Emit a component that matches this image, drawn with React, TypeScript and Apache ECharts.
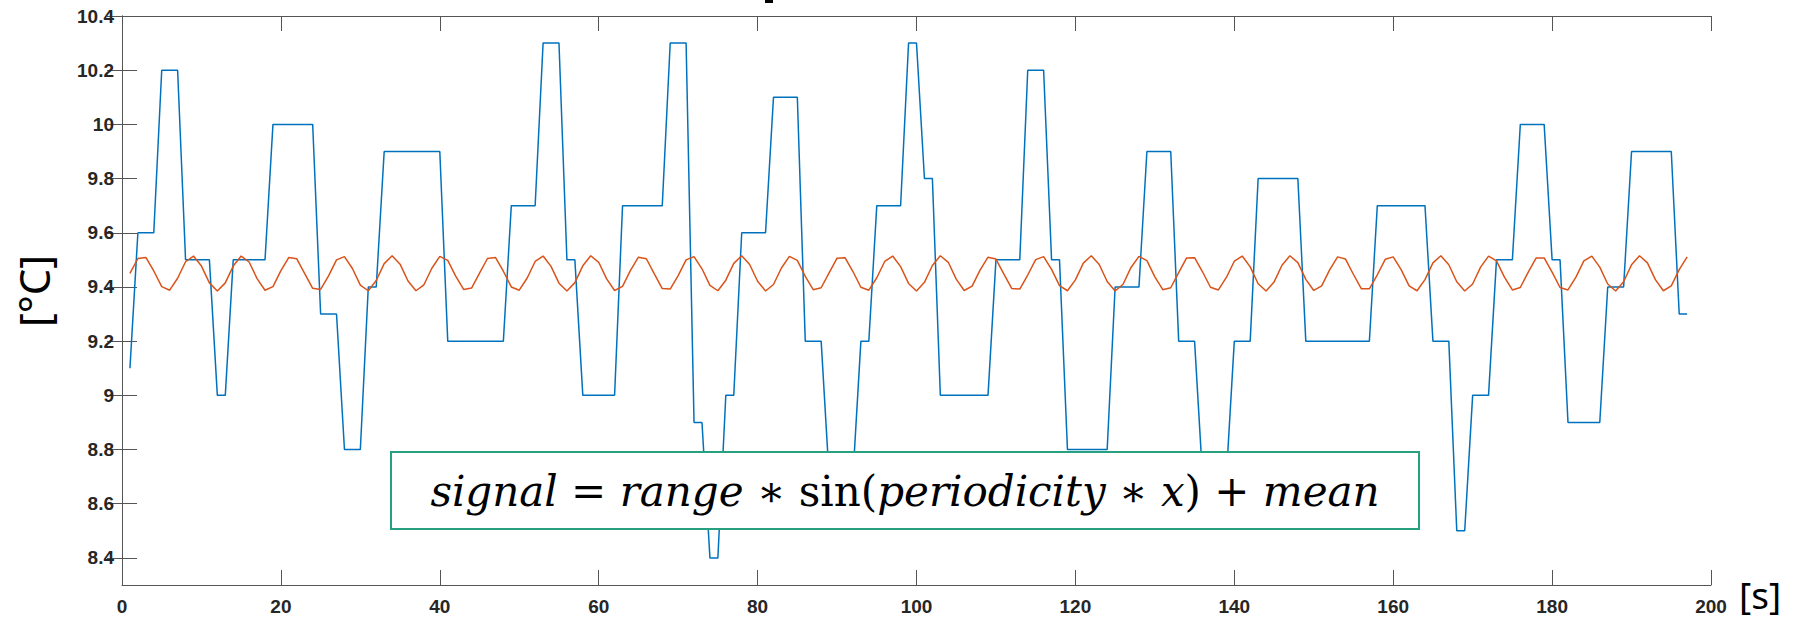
import React, { useEffect, useRef } from "react";
import * as echarts from "echarts";

// Measured temperature signal [°C], one sample per second (x = 1..197)
const blueSignal: number[] = [
  9.1, 9.6, 9.6, 9.6, 10.2, 10.2, 10.2, 9.5, 9.5, 9.5, 9.5, 9.0, 9.0,
  9.5, 9.5, 9.5, 9.5, 9.5, 10.0, 10.0, 10.0, 10.0, 10.0, 10.0, 9.3, 9.3, 9.3,
  8.8, 8.8, 8.8, 9.4, 9.4, 9.9, 9.9, 9.9, 9.9, 9.9, 9.9, 9.9, 9.9,
  9.2, 9.2, 9.2, 9.2, 9.2, 9.2, 9.2, 9.2, 9.7, 9.7, 9.7, 9.7, 10.3, 10.3, 10.3,
  9.5, 9.5, 9.0, 9.0, 9.0, 9.0, 9.0, 9.7, 9.7, 9.7, 9.7, 9.7, 9.7,
  10.3, 10.3, 10.3, 8.9, 8.9, 8.4, 8.4, 9.0, 9.0, 9.6, 9.6, 9.6, 9.6,
  10.1, 10.1, 10.1, 10.1, 9.2, 9.2, 9.2, 8.7, 8.7, 8.7, 8.7, 9.2, 9.2,
  9.7, 9.7, 9.7, 9.7, 10.3, 10.3, 9.8, 9.8, 9.0, 9.0, 9.0, 9.0, 9.0, 9.0, 9.0,
  9.5, 9.5, 9.5, 9.5, 10.2, 10.2, 10.2, 9.5, 9.5, 8.8, 8.8, 8.8, 8.8, 8.8, 8.8,
  9.4, 9.4, 9.4, 9.4, 9.9, 9.9, 9.9, 9.9, 9.2, 9.2, 9.2, 8.7, 8.7, 8.7, 8.7,
  9.2, 9.2, 9.2, 9.8, 9.8, 9.8, 9.8, 9.8, 9.8,
  9.2, 9.2, 9.2, 9.2, 9.2, 9.2, 9.2, 9.2, 9.2, 9.7, 9.7, 9.7, 9.7, 9.7, 9.7, 9.7,
  9.2, 9.2, 9.2, 8.5, 8.5, 9.0, 9.0, 9.0, 9.5, 9.5, 9.5, 10.0, 10.0, 10.0, 10.0,
  9.5, 9.5, 8.9, 8.9, 8.9, 8.9, 8.9, 9.4, 9.4, 9.4, 9.9, 9.9, 9.9, 9.9, 9.9, 9.9,
  9.3, 9.3,
];

// Sinusoidal reference signal [°C], same sampling
const orangeSignal: number[] = [
  9.450, 9.505, 9.509, 9.459, 9.401, 9.388, 9.432, 9.493, 9.514, 9.477, 9.415, 9.385, 9.415, 9.477, 9.514, 9.492, 9.431, 9.388, 9.401, 9.460, 9.509, 9.504,
  9.449, 9.395, 9.391, 9.441, 9.500, 9.512, 9.468, 9.407, 9.386, 9.424, 9.486, 9.515, 9.484, 9.422, 9.386, 9.408, 9.469, 9.513, 9.498, 9.440, 9.391, 9.396,
  9.451, 9.505, 9.509, 9.458, 9.400, 9.388, 9.433, 9.494, 9.514, 9.476, 9.414, 9.385, 9.416, 9.478, 9.515, 9.491, 9.430, 9.387, 9.402, 9.461, 9.510, 9.504,
  9.448, 9.394, 9.392, 9.442, 9.500, 9.512, 9.467, 9.406, 9.386, 9.425, 9.487, 9.515, 9.483, 9.421, 9.385, 9.409, 9.470, 9.513, 9.498, 9.439, 9.390, 9.397,
  9.452, 9.506, 9.508, 9.457, 9.399, 9.388, 9.434, 9.494, 9.514, 9.475, 9.413, 9.385, 9.417, 9.479, 9.515, 9.491, 9.429, 9.387, 9.403, 9.462, 9.510, 9.503,
  9.447, 9.394, 9.392, 9.444, 9.501, 9.512, 9.465, 9.405, 9.386, 9.426, 9.488, 9.515, 9.483, 9.420, 9.385, 9.410, 9.472, 9.513, 9.497, 9.437, 9.390, 9.397,
  9.453, 9.507, 9.508, 9.456, 9.399, 9.389, 9.435, 9.495, 9.514, 9.474, 9.412, 9.385, 9.418, 9.480, 9.515, 9.490, 9.428, 9.387, 9.404, 9.463, 9.511, 9.503,
  9.446, 9.393, 9.393, 9.445, 9.502, 9.511, 9.464, 9.404, 9.386, 9.427, 9.489, 9.515, 9.482, 9.419, 9.385, 9.411, 9.473, 9.514, 9.496, 9.436, 9.389, 9.398,
  9.455, 9.507, 9.507, 9.455, 9.398, 9.389, 9.436, 9.496, 9.514, 9.473, 9.411, 9.385, 9.419, 9.482, 9.515, 9.489, 9.427, 9.386, 9.404, 9.464, 9.511,
];

const yTicks: number[] = [8.4, 8.6, 8.8, 9, 9.2, 9.4, 9.6, 9.8, 10, 10.2, 10.4];
const xRange: number[] = [0, 200];
const xInterval = 20;
const yRange: number[] = [8.3, 10.4];

const xLabel = "[s]";
const yLabel = "[°C]";

const AXIS_COLOR = "#555555";
const LABEL_COLOR = "#262626";

export default function App() {
  const ref = useRef<HTMLDivElement>(null);

  useEffect(() => {
    if (!ref.current) return;
    const chart = echarts.init(ref.current, undefined, { renderer: "svg" });

    const seconds = blueSignal.map((_, i) => i + 1);

    const axisLine = { show: true, lineStyle: { color: AXIS_COLOR, width: 1 } };
    const tick = { show: true, inside: true, length: 15, lineStyle: { color: AXIS_COLOR, width: 1 } };
    const labelStyle = {
      color: LABEL_COLOR,
      fontSize: 19,
      fontWeight: "bold" as const,
      fontFamily: "Liberation Sans, Arial, sans-serif",
    };

    const xBase = {
      type: "value" as const,
      min: xRange[0],
      max: xRange[1],
      interval: xInterval,
      axisLine,
      splitLine: { show: false },
    };
    const yBase = {
      type: "value" as const,
      min: yRange[0],
      max: yRange[1],
      axisLine,
      splitLine: { show: false },
    };

    chart.setOption({
      animation: false,
      backgroundColor: "#ffffff",
      grid: { left: 122, right: 91, top: 16, bottom: 36, containLabel: false },
      xAxis: [
        {
          ...xBase,
          position: "bottom",
          axisTick: tick,
          axisLabel: { ...labelStyle, margin: 12 },
        },
        {
          ...xBase,
          position: "top",
          axisTick: tick,
          axisLabel: { show: false },
        },
      ],
      yAxis: [
        {
          ...yBase,
          position: "left",
          axisTick: { ...tick, customValues: yTicks },
          axisLabel: {
            ...labelStyle,
            margin: 8,
            customValues: yTicks,
            formatter: (v: number) => String(+v.toFixed(1)),
          },
        },
        {
          ...yBase,
          position: "right",
          axisTick: { ...tick, customValues: yTicks },
          axisLabel: { show: false, customValues: yTicks },
        },
      ],
      series: [
        {
          type: "line",
          xAxisIndex: 0,
          yAxisIndex: 0,
          data: seconds.map((s, i) => [s, blueSignal[i]]),
          showSymbol: false,
          symbol: "none",
          lineStyle: { color: "#0072BD", width: 1.5 },
          z: 2,
        },
        {
          type: "line",
          xAxisIndex: 0,
          yAxisIndex: 0,
          data: seconds.map((s, i) => [s, orangeSignal[i]]),
          showSymbol: false,
          symbol: "none",
          lineStyle: { color: "#D95319", width: 1.5 },
          z: 3,
        },
      ],
      graphic: [
        {
          type: "rect",
          left: 765,
          top: 0,
          shape: { width: 8, height: 3 },
          style: { fill: "#000000" },
          z: 50,
        },
        {
          type: "text",
          x: 1739,
          y: 594,
          style: {
            text: xLabel,
            font: '37px "Noto Sans", "Open Sans", sans-serif',
            lineHeight: 37,
            fill: "#000000",
            align: "left",
            verticalAlign: "middle",
          },
          z: 50,
        },
        {
          type: "text",
          x: 33,
          y: 291,
          rotation: Math.PI / 2,
          style: {
            text: yLabel,
            font: '42px "Noto Sans", "Open Sans", sans-serif',
            fill: "#000000",
            align: "center",
            verticalAlign: "middle",
          },
          z: 50,
        },
        {
          type: "rect",
          shape: { x: 391, y: 452, width: 1028, height: 77 },
          style: { fill: "#ffffff", stroke: "#27a07f", lineWidth: 2 },
          z: 100,
        },
        {
          type: "text",
          x: 905,
          y: 491,
          style: {
            text:
              "{i|signal} {n|=} {i|range} {n|∗ sin(}{i|periodicity} {n|∗} {i|x}{n|) +} {i|mean}",
            align: "center",
            verticalAlign: "middle",
            font: '42px "DejaVu Serif", serif',
            fill: "#000000",
            rich: {
              i: {
                fontFamily: "DejaVu Serif, serif",
                fontStyle: "italic",
                fontSize: 42,
                fill: "#000000",
              },
              n: {
                fontFamily: "DejaVu Serif, serif",
                fontStyle: "normal",
                fontSize: 42,
                fill: "#000000",
              },
            },
          },
          z: 101,
        },
      ],
    });

    return () => chart.dispose();
  }, []);

  return (
    <div
      ref={ref}
      style={{ position: "absolute", left: 0, top: 0, width: 1802, height: 621 }}
    />
  );
}
